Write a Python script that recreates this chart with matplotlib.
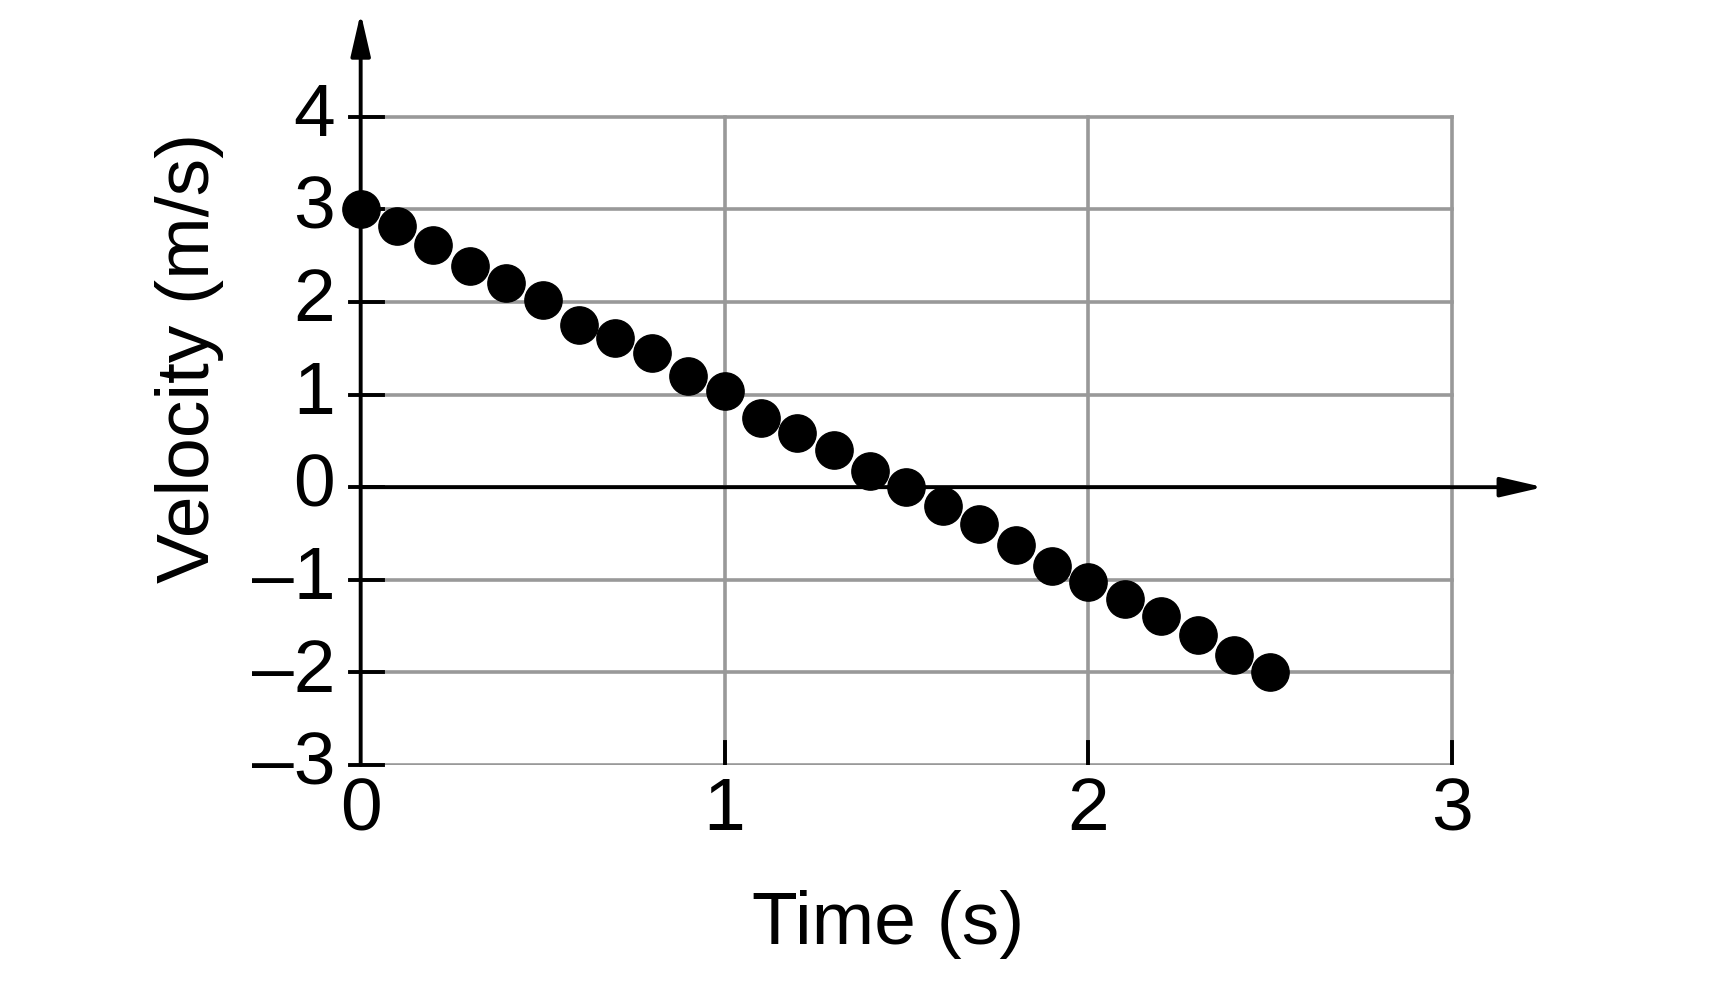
import matplotlib.pyplot as plt

plt.rcParams['font.family'] = ['Liberation Sans', 'DejaVu Sans']

# --- data ---
time_s = [0.0, 0.1, 0.2, 0.3, 0.4, 0.5, 0.6, 0.7, 0.8, 0.9, 1.0, 1.1, 1.2,
          1.3, 1.4, 1.5, 1.6, 1.7, 1.8, 1.9, 2.0, 2.1, 2.2, 2.3, 2.4, 2.5]
velocity = [3.0, 2.82, 2.62, 2.39, 2.2, 2.02, 1.75, 1.61, 1.45, 1.2, 1.04, 0.75, 0.58,
            0.4, 0.17, 0.0, -0.2, -0.4, -0.62, -0.85, -1.02, -1.21, -1.39, -1.6, -1.81, -2.0]
x_ticks = [0, 1, 2, 3]
y_ticks = [-3, -2, -1, 0, 1, 2, 3, 4]
y_tick_labels = ['–3', '–2', '–1', '0', '1', '2', '3', '4']

fig = plt.figure(figsize=(17.34, 10), dpi=100)
ax = fig.add_axes([0.208, 0.235, 0.682, 0.752])
ax.set_xlim(0, 3.25)
ax.set_ylim(-3, 5.12)
ax.axis('off')

# grid
for yv in y_ticks:
    ax.plot([0, 3], [yv, yv], color='#999999', lw=2.6, zorder=1)
for xv in x_ticks[1:]:
    ax.plot([xv, xv], [-3, 4], color='#999999', lw=2.6, zorder=1)

# axes with arrows
arrow = dict(arrowstyle='-|>,head_length=2.6,head_width=0.6', color='black', lw=2.8,
             shrinkA=0, shrinkB=0)
ax.annotate('', xy=(3.25, 0), xytext=(0, 0), arrowprops=arrow, zorder=2)
ax.annotate('', xy=(0, 5.12), xytext=(0, -3), arrowprops=arrow, zorder=2)

# ticks
for yv, lab in zip(y_ticks, y_tick_labels):
    ax.plot([-0.03, 0.06], [yv, yv], color='black', lw=2.8, zorder=2, clip_on=False)
    ax.text(-0.07, yv, lab, ha='right', va='center', fontsize=54, clip_on=False)
for xv in x_ticks:
    if xv > 0:
        ax.plot([xv, xv], [-3, -2.75], color='black', lw=2.8, zorder=2)
    ax.text(xv, -3.12, str(xv), ha='center', va='top', fontsize=54, clip_on=False)

ax.scatter(time_s, velocity, s=720, color='black', zorder=3, clip_on=False)

ax.text(1.45, -4.35, 'Time (s)', ha='center', va='top', fontsize=54, clip_on=False)
ax.text(-0.47, 1.4, 'Velocity (m/s)', ha='center', va='center', rotation=90,
        fontsize=54, clip_on=False)

fig.savefig('out.png')
